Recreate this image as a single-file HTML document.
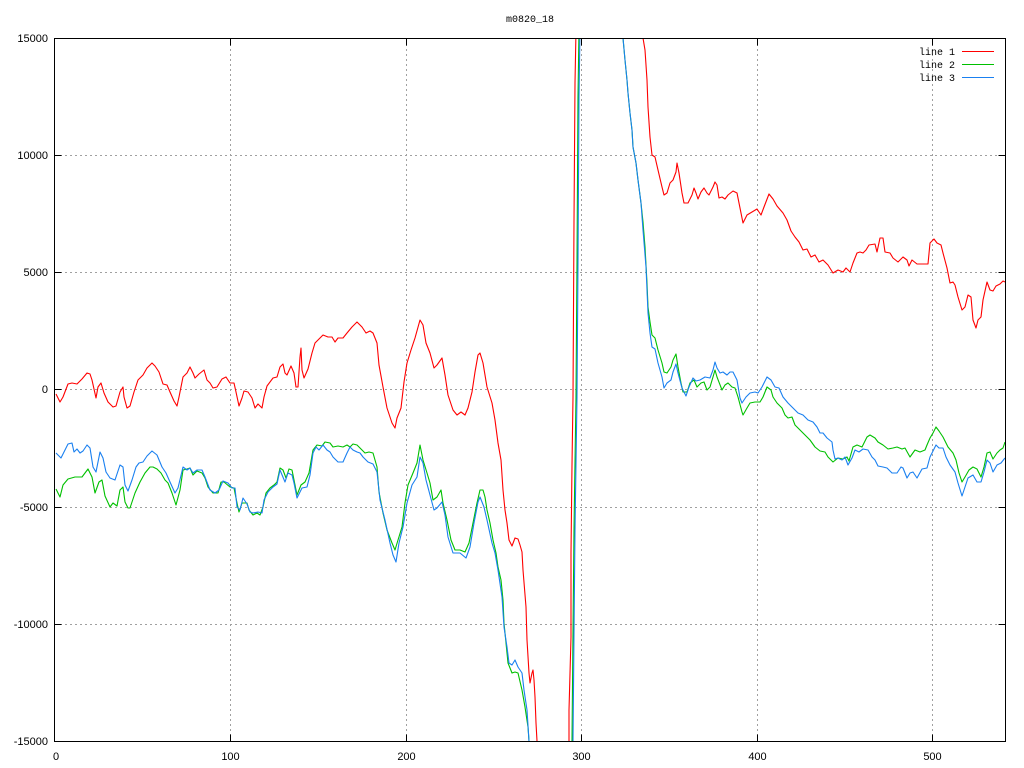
<!DOCTYPE html>
<html><head><meta charset="utf-8"><style>
html,body{margin:0;padding:0;background:#fff;}
svg{display:block;}
text{font-family:"Liberation Sans",sans-serif;font-size:11px;fill:#000;}
.m{font-family:"Liberation Mono",monospace;font-size:10px;}
</style></head><body>
<svg width="1024" height="768" viewBox="0 0 1024 768" xmlns="http://www.w3.org/2000/svg">
<defs><clipPath id="c"><rect x="55" y="39" width="950" height="702"/></clipPath></defs>
<rect width="1024" height="768" fill="#fff"/>
<g stroke="#a0a0a0" stroke-width="1" stroke-dasharray="2,3" fill="none">
<line x1="230.5" y1="39" x2="230.5" y2="741"/>
<line x1="406.5" y1="39" x2="406.5" y2="741"/>
<line x1="581.5" y1="39" x2="581.5" y2="741"/>
<line x1="757.5" y1="39" x2="757.5" y2="741"/>
<line x1="932.5" y1="39" x2="932.5" y2="741"/>
<line x1="55" y1="155.5" x2="1005" y2="155.5"/>
<line x1="55" y1="272.5" x2="1005" y2="272.5"/>
<line x1="55" y1="389.5" x2="1005" y2="389.5"/>
<line x1="55" y1="507.5" x2="1005" y2="507.5"/>
<line x1="55" y1="624.5" x2="1005" y2="624.5"/>
</g>
<g stroke="#000" stroke-width="1" fill="none">
<rect x="54.5" y="38.5" width="951" height="703"/>
<path d="M230.5 38.5v7M406.5 38.5v7M581.5 38.5v7M757.5 38.5v7M932.5 38.5v7M230.5 741.5v-7M406.5 741.5v-7M581.5 741.5v-7M757.5 741.5v-7M932.5 741.5v-7M54.5 155.5h7M54.5 272.5h7M54.5 389.5h7M54.5 507.5h7M54.5 624.5h7M1005.5 155.5h-7M1005.5 272.5h-7M1005.5 389.5h-7M1005.5 507.5h-7M1005.5 624.5h-7"/>
</g>
<g text-anchor="end">
<text x="48" y="42">15000</text>
<text x="48" y="159">10000</text>
<text x="48" y="276">5000</text>
<text x="48" y="393">0</text>
<text x="48" y="511">-5000</text>
<text x="48" y="628">-10000</text>
<text x="48" y="745">-15000</text>
</g>
<g text-anchor="middle">
<text x="56" y="760">0</text>
<text x="230.5" y="760">100</text>
<text x="406.5" y="760">200</text>
<text x="581.5" y="760">300</text>
<text x="757.5" y="760">400</text>
<text x="932.5" y="760">500</text>
<text x="530" y="22" class="m">m0820_18</text>
</g>
<g text-anchor="end">
<text x="955" y="55" class="m">line 1</text>
<text x="955" y="68" class="m">line 2</text>
<text x="955" y="81" class="m">line 3</text>
</g>
<rect x="962" y="51" width="32" height="1" style="fill:#ff0000;stroke:none"/>
<rect x="962" y="64" width="32" height="1" style="fill:#00c000;stroke:none"/>
<rect x="962" y="77" width="32" height="1" style="fill:#1a80f0;stroke:none"/>
<g clip-path="url(#c)" fill="none" stroke-width="1.1" stroke-linejoin="round">
<polyline style="stroke:#ff0000" points="56,394 60,402 63,397 68,384 72,383 77,384 82,379 87,373 90,374 92,380 96,398 98,387 101,383 104,393 108,402 113,407 116,406 120,392 123,387 124,397 127,408 130,406 134,392 138,380 143,375 147,368 152,363 155,366 159,372 163,384 167,385 170,392 174,401 177,406 179,397 183,377 187,373 190,367 193,373 195,378 199,374 204,370 207,380 210,383 213,388 217,387 222,379 226,377 230,383 234,383 236,392 239,406 242,398 244,391 248,392 252,398 255,408 258,404 262,408 264,397 267,386 273,378 277,377 280,367 283,364 285,373 287,375 291,366 294,373 296,387 298,387 300,357 301,348 302,370 304,378 308,369 312,353 315,343 320,338 323,335 328,337 332,337 335,342 338,338 343,338 347,333 352,327 357,322 362,327 366,333 370,331 373,333 377,343 379,365 383,387 387,408 392,423 395,428 397,418 401,408 404,382 407,363 411,350 415,338 420,320 423,325 426,343 430,353 434,368 437,365 442,358 445,375 448,395 453,410 457,415 461,412 465,415 468,408 472,392 475,372 478,355 480,353 483,363 487,387 492,403 495,420 498,443 501,460 503,490 505,510 507,523 509,540 512,546 515,538 518,539 520,545 522,552 523,570 526,607 527,640 529,673 530,683 532,673 533,670 534,680 535,697 536,723 537,741 538,800 568,800 569,741 569,710 571,637 571,553 572,465 573,397 574,220 575,83 576,30 577,-50 642,-50 643,38 645,50 647,80 648,107 650,137 652,155 655,157 658,170 662,187 664,195 667,193 670,183 673,180 676,172 677,163 679,173 682,193 684,203 688,203 692,195 694,188 696,193 698,199 701,192 704,188 707,193 709,195 713,187 715,182 717,185 719,198 722,197 725,199 728,195 733,191 737,193 740,208 743,223 747,215 752,212 757,209 761,215 764,207 769,194 773,199 777,206 783,213 787,220 791,231 795,237 799,242 803,250 807,249 811,257 815,255 819,262 823,260 828,265 833,273 838,270 843,272 846,268 850,272 853,263 857,253 860,252 863,253 866,250 869,245 875,244 877,252 880,238 883,238 885,252 890,253 893,258 898,262 903,257 907,260 909,266 912,260 917,264 928,264 930,243 934,239 937,243 941,245 943,253 947,268 950,283 953,282 955,285 958,297 962,310 965,307 968,295 971,297 973,320 976,328 978,320 981,317 983,300 987,282 990,290 993,291 996,286 1000,284 1003,281 1005,282"/>
<polyline style="stroke:#00c000" points="56,489 60,497 63,485 68,479 75,477 82,477 85,473 88,469 92,477 95,493 99,482 102,480 105,496 110,507 113,503 117,506 120,490 123,487 125,502 128,508 130,508 135,493 140,482 145,473 150,467 153,467 157,469 161,473 165,480 168,483 172,493 176,505 180,490 183,470 187,469 190,468 193,475 197,471 202,473 205,478 208,487 213,493 218,493 221,482 224,482 230,487 234,488 237,503 239,512 242,503 247,503 249,510 253,515 257,513 260,515 263,507 266,493 270,488 274,485 277,482 280,468 283,470 286,478 289,469 292,470 294,480 297,495 301,485 305,482 309,473 313,450 317,445 322,446 325,442 330,443 333,447 338,446 343,447 347,445 350,447 353,444 357,445 360,448 365,453 369,452 373,453 377,467 379,492 383,513 387,530 392,543 395,550 398,540 402,527 405,503 408,485 413,473 417,463 420,445 423,460 427,473 430,483 433,500 437,497 441,490 443,503 447,520 451,540 455,550 460,550 465,552 469,543 473,523 477,503 480,490 483,490 485,497 487,510 490,523 493,540 496,553 498,567 501,580 503,600 504,623 506,643 508,663 512,673 515,672 518,673 522,690 525,707 528,727 529,741 530,800 571,800 572,741 573,633 574,530 575,463 576,397 577,263 578,97 579,30 580,-50 622,-50 623,38 625,60 627,80 628,93 630,113 632,130 633,147 636,163 638,180 641,203 643,222 645,247 647,283 648,307 650,322 652,335 655,338 658,350 662,363 664,372 667,373 671,367 673,360 676,354 678,367 681,383 683,392 687,392 690,383 694,380 697,387 701,383 704,382 707,390 710,387 713,377 715,370 717,377 722,390 725,385 728,383 732,387 735,388 738,397 742,412 743,415 747,408 750,403 755,402 760,402 763,397 767,387 771,390 773,397 777,403 782,408 785,415 788,418 792,417 795,425 799,429 805,435 810,440 815,447 820,451 825,452 828,457 833,462 838,458 843,459 847,457 849,461 853,447 857,445 862,447 867,437 870,435 875,438 878,442 883,445 888,449 893,448 897,447 902,449 905,448 910,457 915,450 920,452 925,450 927,445 930,438 933,433 936,427 939,431 943,437 948,447 953,453 956,460 959,473 962,482 965,477 969,470 973,467 977,469 981,477 984,467 987,453 990,452 993,459 997,453 1000,450 1003,448 1005,442"/>
<polyline style="stroke:#1a80f0" points="56,453 61,458 64,452 68,444 72,443 74,452 77,449 80,453 83,451 87,445 90,448 93,467 96,472 100,452 103,458 106,472 110,478 115,480 120,465 123,467 125,485 128,491 132,480 136,467 139,463 143,462 147,456 152,451 157,455 162,467 166,473 170,482 175,493 178,488 183,467 187,470 190,468 193,473 197,470 202,470 205,477 210,490 215,493 219,490 223,481 228,483 232,488 235,488 237,507 240,510 243,498 247,504 250,512 253,513 258,512 262,513 264,500 268,492 273,487 277,484 280,470 285,482 288,473 292,475 294,483 297,498 302,488 307,487 310,475 313,453 316,447 319,450 323,445 327,450 330,452 333,457 338,462 343,462 347,453 350,447 353,450 357,452 360,453 363,457 368,462 373,464 377,472 380,500 385,520 390,543 393,555 396,562 399,543 403,527 407,503 412,485 417,477 420,457 423,463 426,480 430,495 434,510 437,508 442,502 445,515 448,537 453,553 460,553 466,558 470,547 474,523 478,502 480,497 484,507 487,520 492,543 495,553 498,570 502,597 504,627 507,647 509,663 512,665 515,660 518,667 522,673 524,690 527,710 529,741 530,800 572,800 573,741 574,633 575,530 576,463 577,397 578,263 579,97 580,30 581,-50 622,-50 623,38 625,60 627,80 628,93 630,113 632,130 633,147 636,163 638,180 641,203 643,230 646,267 648,313 650,333 652,347 655,349 658,363 662,377 664,388 667,383 671,380 673,372 676,364 678,373 682,388 686,396 689,387 693,378 696,381 700,380 705,377 710,378 713,370 715,362 717,368 720,373 723,372 727,375 730,372 733,372 737,380 740,398 742,403 746,397 750,393 755,392 758,393 762,387 767,377 771,380 775,387 779,388 783,397 788,403 793,408 798,413 803,415 808,420 813,422 817,427 820,433 823,433 827,438 832,442 833,450 835,459 838,458 842,460 845,457 848,465 852,458 855,450 859,452 863,449 868,450 872,457 875,460 878,466 883,467 887,468 892,473 897,473 901,467 903,468 907,478 910,473 913,472 917,478 922,469 927,468 930,457 933,451 936,445 939,448 943,448 946,457 950,465 955,472 958,483 962,496 965,487 968,478 973,475 977,482 981,482 984,472 987,460 990,463 993,472 997,465 1001,463 1005,458"/>
</g>
</svg>
</body></html>
